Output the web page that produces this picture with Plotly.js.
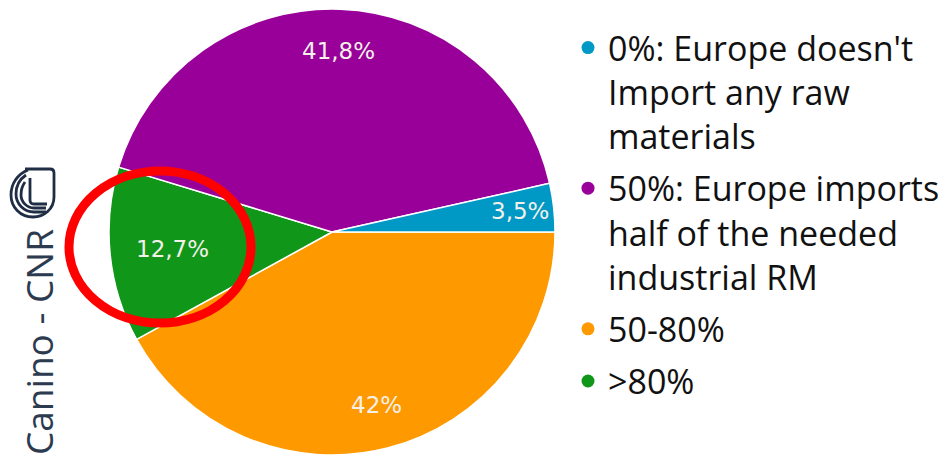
<!DOCTYPE html>
<html>
<head>
<meta charset="utf-8">
<script src="https://cdn.plot.ly/plotly-3.0.1.min.js"></script>
<style>html,body{margin:0;padding:0;background:#fff;}#chart{width:950px;height:456px;}</style>
</head>
<body>
<div id="chart"></div>
<script>
// Data (legend order)
var categories = [
  "0%: Europe doesn't<br>Import any raw<br>materials",
  "50%: Europe imports<br>half of the needed<br>industrial RM",
  "50-80%",
  ">80%"
];
var values = [3.5, 41.8, 42, 12.7];
var colors = ["#0099c6", "#990099", "#ff9900", "#109618"];
// order in which slices are laid out around the pie (clockwise from 3 o'clock)
var pieOrder = [2, 3, 1, 0];
// radial placement of each slice label (fraction of radius), legend order
var labelRadius = [0.85, 0.81, 0.80, 0.72];

var W = 950, H = 456;
var CX = 332, CY = 232, R = 223;
function px(x) { return x / W; }
function py(y) { return 1 - y / H; }

var pieTrace = {
  type: "pie",
  labels: pieOrder.map(function (i) { return categories[i]; }),
  values: pieOrder.map(function (i) { return values[i]; }),
  marker: { colors: pieOrder.map(function (i) { return colors[i]; }), line: { color: "#ffffff", width: 1.5 } },
  sort: false,
  direction: "clockwise",
  rotation: 90,
  textinfo: "none",
  textposition: "none",
  showlegend: false,
  hoverinfo: "none",
  domain: { x: [px(CX - R), px(CX + R)], y: [py(CY + R), py(CY - R)] }
};

var legendTraces = categories.map(function (c, i) {
  return {
    type: "scatter",
    mode: "markers",
    x: [null], y: [null],
    name: c,
    legendgroup: "g" + i,
    marker: { color: colors[i], size: 13, symbol: "circle" },
    showlegend: true,
    hoverinfo: "none"
  };
});

// slice labels positioned from the data (mid-angle of each slice)
var total = values.reduce(function (a, b) { return a + b; }, 0);
var labelAnns = [];
var start = 0; // degrees, clockwise from 3 o'clock on screen
pieOrder.forEach(function (i) {
  var sweep = values[i] / total * 360;
  var mid = (start + sweep / 2) * Math.PI / 180;
  start += sweep;
  var pct = values[i] / total * 100;
  var txt = (Math.round(pct * 10) / 10).toString().replace(".", ",") + "%";
  labelAnns.push({
    text: txt, xref: "paper", yref: "paper",
    x: px(CX + R * labelRadius[i] * Math.cos(mid)),
    y: py(CY + R * labelRadius[i] * Math.sin(mid)),
    xanchor: "center", yanchor: "middle", showarrow: false,
    font: { family: "DejaVu Sans, sans-serif", size: 23, color: "#f3f1ea" }
  });
});

var ink = "#1f2d45";
var logoPaths = [
  "M 25 169 L 50 169 Q 54 169 54 173 L 54 197 C 54 209 44 217 33 217 C 20 217 11 207 11 195 C 11 183 18 174 28 170",
  "M 26 175 C 20 179 16 186 16 194 C 16 204 24 212 34 212 L 46 212",
  "M 25 182 C 22 186 21 190 21 195 C 21 202 27 208 34 208 L 46 208",
  "M 30 178 L 30 200 Q 30 204 34 204 L 47 204"
];
function toPaperPath(p) {
  var toks = p.split(" ");
  var out = [];
  var isX = true;
  for (var k = 0; k < toks.length; k++) {
    var t = toks[k];
    if (/^[A-Za-z]$/.test(t)) { out.push(t); isX = true; continue; }
    var v = parseFloat(t);
    out.push(isX ? px(v).toFixed(5) : py(v).toFixed(5));
    isX = !isX;
  }
  return out.join(" ");
}

var shapes = logoPaths.map(function (p) {
  return { type: "path", xref: "paper", yref: "paper", path: toPaperPath(p), line: { color: ink, width: 2.8 }, fillcolor: "rgba(0,0,0,0)" };
});
shapes.push({
  type: "circle", xref: "paper", yref: "paper",
  x0: px(69), x1: px(251), y0: py(323), y1: py(171),
  line: { color: "#ff0000", width: 9 }, fillcolor: "rgba(0,0,0,0)"
});

var layout = {
  width: W, height: H,
  margin: { l: 0, r: 0, t: 0, b: 0 },
  paper_bgcolor: "#ffffff",
  plot_bgcolor: "rgba(0,0,0,0)",
  xaxis: { visible: false, domain: [0.99, 1] },
  yaxis: { visible: false, domain: [0.99, 1] },
  showlegend: true,
  legend: {
    x: px(568), xanchor: "left",
    y: py(19), yanchor: "top",
    valign: "top",
    tracegroupgap: 5,
    font: { family: "Open Sans, Noto Sans, sans-serif", size: 34, color: "#111111" },
    bgcolor: "rgba(0,0,0,0)",
    itemclick: false, itemdoubleclick: false
  },
  shapes: shapes,
  annotations: labelAnns.concat([{
    text: "Canino - CNR", xref: "paper", yref: "paper",
    x: px(38), y: py(342), xanchor: "center", yanchor: "middle",
    textangle: -90, showarrow: false,
    font: { family: "Open Sans, Noto Sans, sans-serif", size: 37, color: "#2c3b50" }
  }])
};

Plotly.newPlot("chart", [pieTrace].concat(legendTraces), layout, { displayModeBar: false, staticPlot: true });
</script>
</body>
</html>
